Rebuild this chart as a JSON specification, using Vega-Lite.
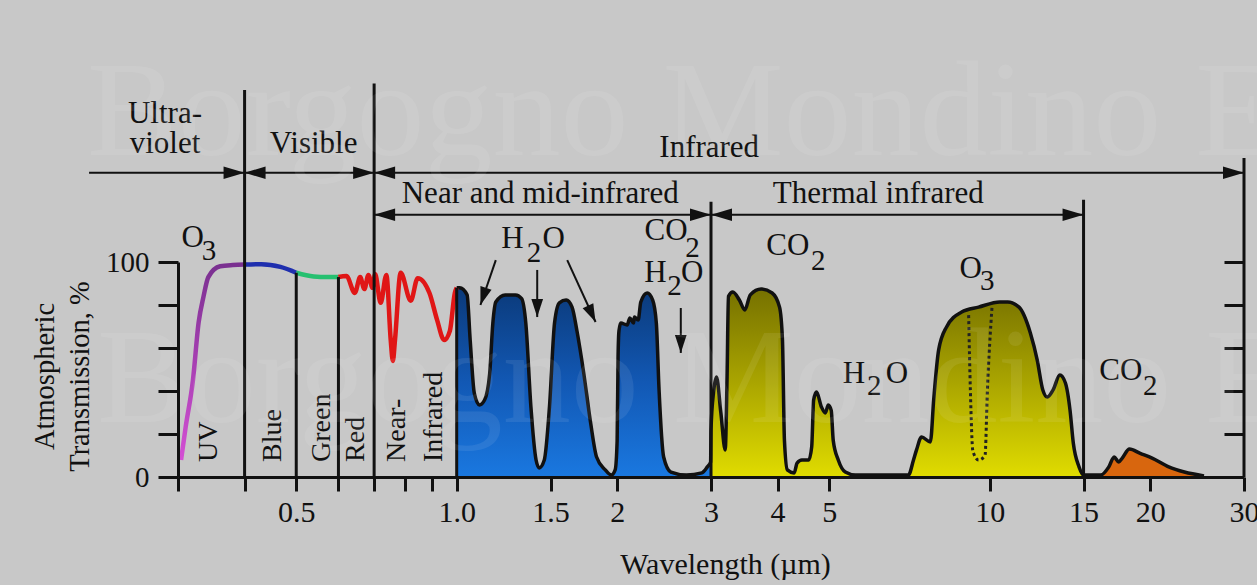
{
  "$schema": "https://vega.github.io/schema/vega-lite/v6.json",
  "width": 1066,
  "height": 215,
  "autosize": {"type": "none"},
  "padding": {"left": 178, "top": 262, "right": 13, "bottom": 108},
  "background": "#c8c8c8",
  "config": {"view": {"stroke": null}, "font": "Liberation Serif"},
  "datasets": {
    "vis": [
      {"wl": 0.304, "t": 7.9, "band": "uv"}, {"wl": 0.31, "t": 23, "band": "uv"}, {"wl": 0.32, "t": 45, "band": "uv"}, {"wl": 0.328, "t": 72, "band": "uv"}, {"wl": 0.335, "t": 84, "band": "uv"}, {"wl": 0.342, "t": 93, "band": "uv"}, {"wl": 0.36, "t": 98, "band": "uv"}, {"wl": 0.38, "t": 98.6, "band": "uv"}, {"wl": 0.4, "t": 98.8, "band": "uv"},
      {"wl": 0.4, "t": 98.8, "band": "blue"}, {"wl": 0.43, "t": 99, "band": "blue"}, {"wl": 0.467, "t": 97.7, "band": "blue"}, {"wl": 0.5, "t": 95, "band": "blue"},
      {"wl": 0.5, "t": 95, "band": "green"}, {"wl": 0.539, "t": 93.3, "band": "green"}, {"wl": 0.573, "t": 93, "band": "green"}, {"wl": 0.6, "t": 93, "band": "green"},
      {"wl": 0.6, "t": 93, "band": "red"}, {"wl": 0.621, "t": 93.5, "band": "red"}, {"wl": 0.644, "t": 85.6, "band": "red"}, {"wl": 0.659, "t": 93, "band": "red"}, {"wl": 0.671, "t": 87.4, "band": "red"}, {"wl": 0.683, "t": 94, "band": "red"}, {"wl": 0.695, "t": 88, "band": "red"}, {"wl": 0.703, "t": 94.4, "band": "red"}, {"wl": 0.72, "t": 81, "band": "red"}, {"wl": 0.738, "t": 94, "band": "red"}, {"wl": 0.752, "t": 63.7, "band": "red"}, {"wl": 0.759, "t": 54, "band": "red"}, {"wl": 0.766, "t": 63.7, "band": "red"}, {"wl": 0.785, "t": 95, "band": "red"}, {"wl": 0.82, "t": 82, "band": "red"}, {"wl": 0.845, "t": 92.5, "band": "red"}, {"wl": 0.889, "t": 85.6, "band": "red"}, {"wl": 0.919, "t": 73, "band": "red"}, {"wl": 0.947, "t": 63.7, "band": "red"}, {"wl": 0.971, "t": 68, "band": "red"}, {"wl": 0.992, "t": 85.6, "band": "red"}, {"wl": 1.0, "t": 88, "band": "red"}
    ],
    "ir": [
      {"wl": 1.0, "t": 88, "band": "nir"}, {"wl": 1.013, "t": 88, "band": "nir"}, {"wl": 1.046, "t": 84.7, "band": "nir"}, {"wl": 1.06, "t": 63.7, "band": "nir"}, {"wl": 1.079, "t": 39, "band": "nir"}, {"wl": 1.103, "t": 33.5, "band": "nir"}, {"wl": 1.128, "t": 35.8, "band": "nir"}, {"wl": 1.153, "t": 48, "band": "nir"}, {"wl": 1.169, "t": 71.6, "band": "nir"}, {"wl": 1.184, "t": 81.4, "band": "nir"}, {"wl": 1.233, "t": 84.7, "band": "nir"}, {"wl": 1.289, "t": 84.7, "band": "nir"}, {"wl": 1.324, "t": 83, "band": "nir"}, {"wl": 1.348, "t": 71.6, "band": "nir"}, {"wl": 1.378, "t": 32.6, "band": "nir"}, {"wl": 1.409, "t": 7.9, "band": "nir"}, {"wl": 1.428, "t": 4.2, "band": "nir"}, {"wl": 1.46, "t": 7.9, "band": "nir"}, {"wl": 1.493, "t": 32.6, "band": "nir"}, {"wl": 1.526, "t": 71.6, "band": "nir"}, {"wl": 1.558, "t": 81, "band": "nir"}, {"wl": 1.605, "t": 82.3, "band": "nir"}, {"wl": 1.646, "t": 79, "band": "nir"}, {"wl": 1.681, "t": 68, "band": "nir"}, {"wl": 1.732, "t": 48, "band": "nir"}, {"wl": 1.784, "t": 25, "band": "nir"}, {"wl": 1.83, "t": 9.3, "band": "nir"}, {"wl": 1.9, "t": 3.3, "band": "nir"}, {"wl": 1.95, "t": 0.9, "band": "nir"}, {"wl": 1.983, "t": 3.3, "band": "nir"}, {"wl": 2.0, "t": 17, "band": "nir"}, {"wl": 2.008, "t": 56, "band": "nir"}, {"wl": 2.016, "t": 68, "band": "nir"}, {"wl": 2.032, "t": 71.6, "band": "nir"}, {"wl": 2.088, "t": 70.7, "band": "nir"}, {"wl": 2.113, "t": 74, "band": "nir"}, {"wl": 2.147, "t": 71.6, "band": "nir"}, {"wl": 2.155, "t": 74.4, "band": "nir"}, {"wl": 2.19, "t": 73, "band": "nir"}, {"wl": 2.215, "t": 81.4, "band": "nir"}, {"wl": 2.277, "t": 85.6, "band": "nir"}, {"wl": 2.332, "t": 82.3, "band": "nir"}, {"wl": 2.369, "t": 71.6, "band": "nir"}, {"wl": 2.397, "t": 40.5, "band": "nir"}, {"wl": 2.445, "t": 9.3, "band": "nir"}, {"wl": 2.523, "t": 2.3, "band": "nir"}, {"wl": 2.698, "t": 0.9, "band": "nir"}, {"wl": 2.884, "t": 1.9, "band": "nir"}, {"wl": 2.953, "t": 4.7, "band": "nir"}, {"wl": 2.995, "t": 7, "band": "nir"},
      {"wl": 3.0, "t": 22, "band": "tir"}, {"wl": 3.035, "t": 40, "band": "tir"}, {"wl": 3.072, "t": 46.5, "band": "tir"}, {"wl": 3.13, "t": 30, "band": "tir"}, {"wl": 3.19, "t": 12.6, "band": "tir"}, {"wl": 3.215, "t": 45, "band": "tir"}, {"wl": 3.235, "t": 84, "band": "tir"}, {"wl": 3.297, "t": 86, "band": "tir"}, {"wl": 3.391, "t": 82.3, "band": "tir"}, {"wl": 3.472, "t": 77.7, "band": "tir"}, {"wl": 3.555, "t": 84.7, "band": "tir"}, {"wl": 3.727, "t": 87.4, "band": "tir"}, {"wl": 3.907, "t": 85.6, "band": "tir"}, {"wl": 4.034, "t": 79, "band": "tir"}, {"wl": 4.085, "t": 63.7, "band": "tir"}, {"wl": 4.12, "t": 17, "band": "tir"}, {"wl": 4.172, "t": 3.3, "band": "tir"}, {"wl": 4.297, "t": 1.9, "band": "tir"}, {"wl": 4.351, "t": 6.5, "band": "tir"}, {"wl": 4.444, "t": 7.9, "band": "tir"}, {"wl": 4.577, "t": 7.9, "band": "tir"}, {"wl": 4.635, "t": 14, "band": "tir"}, {"wl": 4.674, "t": 35.8, "band": "tir"}, {"wl": 4.733, "t": 39.5, "band": "tir"}, {"wl": 4.834, "t": 32.6, "band": "tir"}, {"wl": 4.916, "t": 29.8, "band": "tir"}, {"wl": 4.979, "t": 33.5, "band": "tir"}, {"wl": 5.043, "t": 31, "band": "tir"}, {"wl": 5.087, "t": 17, "band": "tir"}, {"wl": 5.199, "t": 7.9, "band": "tir"}, {"wl": 5.359, "t": 2.3, "band": "tir"}, {"wl": 5.596, "t": 0.9, "band": "tir"}, {"wl": 7.04, "t": 0.9, "band": "tir"}, {"wl": 7.195, "t": 7.9, "band": "tir"}, {"wl": 7.29, "t": 12.6, "band": "tir"}, {"wl": 7.45, "t": 18.6, "band": "tir"}, {"wl": 7.74, "t": 16.3, "band": "tir"}, {"wl": 7.85, "t": 35.8, "band": "tir"}, {"wl": 8.02, "t": 59, "band": "tir"}, {"wl": 8.3, "t": 69.8, "band": "tir"}, {"wl": 8.86, "t": 76.7, "band": "tir"}, {"wl": 9.53, "t": 79, "band": "tir"}, {"wl": 10.45, "t": 81.4, "band": "tir"}, {"wl": 10.81, "t": 81.4, "band": "tir"}, {"wl": 11.35, "t": 79, "band": "tir"}, {"wl": 11.92, "t": 67, "band": "tir"}, {"wl": 12.28, "t": 54.4, "band": "tir"}, {"wl": 12.58, "t": 40.5, "band": "tir"}, {"wl": 12.83, "t": 37.2, "band": "tir"}, {"wl": 13.15, "t": 40.5, "band": "tir"}, {"wl": 13.54, "t": 47.4, "band": "tir"}, {"wl": 13.87, "t": 43.7, "band": "tir"}, {"wl": 14.15, "t": 31, "band": "tir"}, {"wl": 14.35, "t": 15.8, "band": "tir"}, {"wl": 14.71, "t": 4.7, "band": "tir"}, {"wl": 15.0, "t": 0.9, "band": "tir"},
      {"wl": 15.02, "t": 0.9, "band": "far"}, {"wl": 16.15, "t": 0.9, "band": "far"}, {"wl": 16.73, "t": 4.7, "band": "far"}, {"wl": 17.12, "t": 9.3, "band": "far"}, {"wl": 17.46, "t": 7, "band": "far"}, {"wl": 17.73, "t": 8.8, "band": "far"}, {"wl": 18.29, "t": 13, "band": "far"}, {"wl": 19.16, "t": 11, "band": "far"}, {"wl": 20.17, "t": 8.8, "band": "far"}, {"wl": 21.67, "t": 4.7, "band": "far"}, {"wl": 23.19, "t": 2.3, "band": "far"}, {"wl": 25.24, "t": 0.5, "band": "far"}
    ],
    "o3": [
      {"wl": 9.13, "t": 75.3}, {"wl": 9.2, "t": 40}, {"wl": 9.3, "t": 12}, {"wl": 9.53, "t": 7.9}, {"wl": 9.8, "t": 10}, {"wl": 9.9, "t": 40}, {"wl": 10.1, "t": 79}
    ],
    "dividers": [
      {"wl": 0.4, "t": 0, "t2": 180}, {"wl": 0.5, "t": 0, "t2": 95}, {"wl": 0.6, "t": 0, "t2": 93}, {"wl": 0.7, "t": 0, "t2": 183}, {"wl": 1.0, "t": 0, "t2": 88}, {"wl": 3.0, "t": 0, "t2": 128}, {"wl": 15, "t": 0, "t2": 129}
    ],
    "shafts": [
      {"wl": 0.2043, "wl2": 0.4, "t": 141.5, "t2": 141.5},
      {"wl": 0.4, "wl2": 0.7, "t": 141.5, "t2": 141.5},
      {"wl": 0.7, "wl2": 30, "t": 141.5, "t2": 141.5},
      {"wl": 0.7, "wl2": 3.0, "t": 122, "t2": 122},
      {"wl": 3.0, "wl2": 15, "t": 122, "t2": 122},
      {"wl": 1.184, "wl2": 1.108, "t": 100.9, "t2": 80},
      {"wl": 1.416, "wl2": 1.416, "t": 96.3, "t2": 74.4},
      {"wl": 1.612, "wl2": 1.822, "t": 100.9, "t2": 72.1},
      {"wl": 2.633, "wl2": 2.633, "t": 78.6, "t2": 57.7}
    ],
    "heads": [
      {"wl": 0.4, "t": 141.5, "dir": "right"}, {"wl": 0.7, "t": 141.5, "dir": "right"}, {"wl": 30, "t": 141.5, "dir": "right"}, {"wl": 3.0, "t": 122, "dir": "right"}, {"wl": 15, "t": 122, "dir": "right"},
      {"wl": 0.4, "t": 141.5, "dir": "left"}, {"wl": 0.7, "t": 141.5, "dir": "left"}, {"wl": 0.7, "t": 122, "dir": "left"}, {"wl": 3.0, "t": 122, "dir": "left"},
      {"wl": 1.416, "t": 74.4, "dir": "down"}, {"wl": 2.633, "t": 57.7, "dir": "down"},
      {"wl": 1.108, "t": 80, "dir": "downleft"}, {"wl": 1.822, "t": 72.1, "dir": "downright"}
    ],
    "hlabels": [
      {"txt": "Ultra-", "wl": 0.2836, "t": 164.7}, {"txt": "violet", "wl": 0.2836, "t": 150.7}, {"txt": "Visible", "wl": 0.539, "t": 150.7}, {"txt": "Infrared", "wl": 2.977, "t": 148.8}, {"txt": "Near and mid-infrared", "wl": 1.435, "t": 127.4}, {"txt": "Thermal infrared", "wl": 6.18, "t": 127.4},
      {"txt": "O", "wl": 0.3197, "t": 107}, {"txt": "H", "wl": 1.272, "t": 106.5}, {"txt": "O", "wl": 1.52, "t": 106.5}, {"txt": "CO", "wl": 2.47, "t": 110.2}, {"txt": "H", "wl": 2.36, "t": 90.7}, {"txt": "O", "wl": 2.765, "t": 90.7}, {"txt": "CO", "wl": 4.18, "t": 103.3}, {"txt": "H", "wl": 5.56, "t": 43.7}, {"txt": "O", "wl": 6.7, "t": 43.7}, {"txt": "O", "wl": 9.21, "t": 92.6}, {"txt": "CO", "wl": 17.62, "t": 45.1}
    ],
    "subs": [
      {"txt": "3", "wl": 0.343, "t": 100.9}, {"txt": "2", "wl": 1.397, "t": 100}, {"txt": "2", "wl": 2.77, "t": 102.3}, {"txt": "2", "wl": 2.563, "t": 84.7}, {"txt": "2", "wl": 4.77, "t": 96.3}, {"txt": "2", "wl": 6.076, "t": 38.1}, {"txt": "3", "wl": 9.9, "t": 87}, {"txt": "2", "wl": 20.0, "t": 38.1}
    ],
    "vlabels": [
      {"txt": "UV", "wl": 0.3553, "t": 7}, {"txt": "Blue", "wl": 0.4672, "t": 7}, {"txt": "Green", "wl": 0.578, "t": 7}, {"txt": "Red", "wl": 0.671, "t": 7}, {"txt": "Near-", "wl": 0.8, "t": 7}, {"txt": "Infrared", "wl": 0.9388, "t": 7}
    ],
    "watermark": [
      {"txt": "Borgogno Mondino E", "wl": 0.2025, "t": 149.8}, {"txt": "Borgogno Mondino E", "wl": 0.2115, "t": 25.6}
    ]
  },
  "layer": [
    {
      "encoding": {
        "x": {"field": "wl", "type": "quantitative",
          "scale": {"type": "log", "domain": [0.3, 30], "nice": false},
          "axis": {"values": [0.3, 0.4, 0.5, 0.6, 0.7, 0.8, 0.9, 1, 1.5, 2, 3, 4, 5, 10, 15, 20, 30],
            "labelExpr": "datum.value == 1 ? '1.0' : (indexof([0.5, 1.5, 2, 3, 4, 5, 10, 15, 20, 30], datum.value) >= 0 ? '' + datum.value : '')",
            "grid": false, "domainColor": "#111111", "domainWidth": 3, "tickColor": "#111111", "tickWidth": 3, "tickSize": 14,
            "labelFont": "Liberation Serif", "labelFontSize": 30, "labelColor": "#111111", "labelPadding": 6, "labelOverlap": false, "labelFlush": false,
            "title": "Wavelength (µm)", "titleFont": "Liberation Serif", "titleFontSize": 30, "titleFontWeight": "normal", "titleColor": "#111111",
            "titleX": 547, "titleY": 96, "titleAlign": "center", "titleBaseline": "alphabetic", "zindex": 1}},
        "y": {"field": "t", "type": "quantitative",
          "scale": {"domain": [0, 100], "nice": false},
          "axis": {"values": [0, 20, 40, 60, 80, 100],
            "labelExpr": "datum.value == 0 || datum.value == 100 ? '' + datum.value : ''",
            "grid": false, "domainColor": "#111111", "domainWidth": 3, "tickColor": "#111111", "tickWidth": 3, "tickSize": 20,
            "labelFont": "Liberation Serif", "labelFontSize": 29, "labelColor": "#111111", "labelPadding": 9, "labelFlush": false, "labelOverlap": false,
            "title": ["Atmospheric", "Transmission, %"], "titleFont": "Liberation Serif", "titleFontSize": 28.5, "titleFontWeight": "normal", "titleColor": "#111111",
            "titleAngle": 270, "titleX": -125, "titleY": 114, "titleAlign": "center", "titleBaseline": "alphabetic", "titleLineHeight": 35, "zindex": 1}}
      },
      "layer": [
        {"data": {"name": "ir"}, "transform": [{"filter": "datum.band == 'nir'"}],
          "mark": {"type": "area", "interpolate": "monotone",
            "fill": {"gradient": "linear", "x1": 0, "y1": 0, "x2": 0, "y2": 1, "stops": [{"offset": 0, "color": "#0b3a7a"}, {"offset": 0.5, "color": "#1258b4"}, {"offset": 1, "color": "#1a78e0"}]}}},
        {"data": {"name": "ir"}, "transform": [{"filter": "datum.band == 'tir'"}],
          "mark": {"type": "area", "interpolate": "monotone",
            "fill": {"gradient": "linear", "x1": 0, "y1": 0, "x2": 0, "y2": 1, "stops": [{"offset": 0, "color": "#767100"}, {"offset": 0.5, "color": "#aaa500"}, {"offset": 1, "color": "#e0dc00"}]}}},
        {"data": {"name": "ir"}, "transform": [{"filter": "datum.band == 'far'"}],
          "mark": {"type": "area", "interpolate": "monotone", "fill": "#d8660e"}},
        {"data": {"name": "ir"},
          "mark": {"type": "line", "interpolate": "monotone", "stroke": "#111111", "strokeWidth": 3.5}},
        {"data": {"name": "vis"}, "transform": [{"filter": "datum.band == 'uv'"}],
          "mark": {"type": "line", "interpolate": "monotone", "strokeWidth": 4.5,
            "stroke": {"gradient": "linear", "x1": 0, "y1": 0, "x2": 0, "y2": 1, "stops": [{"offset": 0, "color": "#7a3090"}, {"offset": 1, "color": "#d44fd4"}]}}},
        {"data": {"name": "vis"}, "transform": [{"filter": "datum.band != 'uv'"}],
          "mark": {"type": "line", "interpolate": "monotone", "strokeWidth": 4.5},
          "encoding": {"color": {"field": "band", "type": "nominal", "legend": null,
            "scale": {"domain": ["blue", "green", "red"], "range": ["#1f2fae", "#26c070", "#e01616"]}}}},
        {"data": {"name": "o3"},
          "mark": {"type": "line", "interpolate": "monotone", "stroke": "#222222", "strokeWidth": 3, "strokeDash": [3, 3]}},
        {"data": {"name": "dividers"},
          "mark": {"type": "rule", "stroke": "#111111", "strokeWidth": 3},
          "encoding": {"y2": {"field": "t2"}}},
        {"data": {"name": "shafts"},
          "mark": {"type": "rule", "stroke": "#111111", "strokeWidth": 2},
          "encoding": {"x2": {"field": "wl2"}, "y2": {"field": "t2"}}},
        {"data": {"name": "heads"}, "transform": [{"filter": "datum.dir == 'right'"}],
          "mark": {"type": "point", "filled": true, "color": "#111111", "opacity": 1, "size": 441, "shape": "M0,0L-2,-0.6L-2,0.6Z"}},
        {"data": {"name": "heads"}, "transform": [{"filter": "datum.dir == 'left'"}],
          "mark": {"type": "point", "filled": true, "color": "#111111", "opacity": 1, "size": 441, "shape": "M0,0L2,-0.6L2,0.6Z"}},
        {"data": {"name": "heads"}, "transform": [{"filter": "datum.dir == 'down'"}],
          "mark": {"type": "point", "filled": true, "color": "#111111", "opacity": 1, "size": 324, "shape": "M0,0L-0.65,-2L0.65,-2Z"}},
        {"data": {"name": "heads"}, "transform": [{"filter": "datum.dir == 'downleft'"}],
          "mark": {"type": "point", "filled": true, "color": "#111111", "opacity": 1, "size": 324, "angle": 18, "shape": "M0,0L-0.65,-2L0.65,-2Z"}},
        {"data": {"name": "heads"}, "transform": [{"filter": "datum.dir == 'downright'"}],
          "mark": {"type": "point", "filled": true, "color": "#111111", "opacity": 1, "size": 324, "angle": 335, "shape": "M0,0L-0.65,-2L0.65,-2Z"}},
        {"data": {"name": "hlabels"},
          "mark": {"type": "text", "font": "Liberation Serif", "fontSize": 31, "align": "center", "baseline": "alphabetic", "color": "#111111"},
          "encoding": {"text": {"field": "txt"}}},
        {"data": {"name": "subs"},
          "mark": {"type": "text", "font": "Liberation Serif", "fontSize": 29, "align": "center", "baseline": "alphabetic", "color": "#111111"},
          "encoding": {"text": {"field": "txt"}}},
        {"data": {"name": "vlabels"},
          "mark": {"type": "text", "font": "Liberation Serif", "fontSize": 28, "angle": 270, "align": "left", "baseline": "alphabetic", "color": "#111111"},
          "encoding": {"text": {"field": "txt"}}},
        {"data": {"name": "watermark"},
          "mark": {"type": "text", "font": "Liberation Serif", "fontSize": 136, "align": "left", "baseline": "alphabetic", "color": "#ffffff", "opacity": 0.08},
          "encoding": {"text": {"field": "txt"}}}
      ]
    },
    {
      "data": {"values": [{"wl": 30, "t": 0, "t2": 148.4}]},
      "mark": {"type": "rule", "stroke": "#111111", "strokeWidth": 3},
      "encoding": {
        "x": {"field": "wl", "type": "quantitative", "scale": {"type": "log", "domain": [0.3, 30], "nice": false}, "axis": null},
        "y": {"field": "t", "type": "quantitative", "scale": {"domain": [0, 100], "nice": false},
          "axis": {"orient": "right", "values": [20, 40, 60, 80, 100], "labels": false, "domain": false, "grid": false,
            "tickSize": -20, "tickWidth": 3, "tickColor": "#111111", "title": null}},
        "y2": {"field": "t2"}
      }
    }
  ],
  "resolve": {"axis": {"y": "independent", "x": "independent"}}
}
